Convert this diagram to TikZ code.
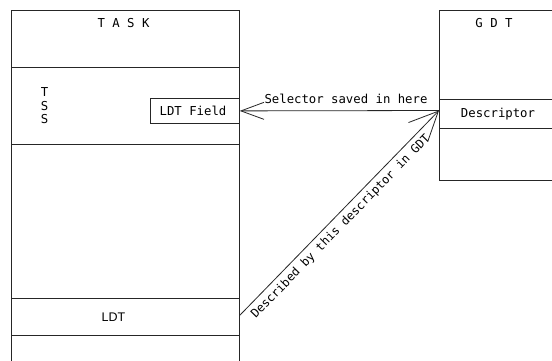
\documentclass[tikz,border=0pt]{standalone}
\usepackage{fontspec}
\setmainfont{DejaVu Sans Mono}
\setsansfont{Liberation Sans}
\usetikzlibrary{arrows.meta}
\begin{document}
\begin{tikzpicture}[x=1pt,y=-1pt,
  ln/.style={line width=0.8pt, draw=black!85},
  lbl/.style={font=\fontsize{12.3}{14}\selectfont, inner sep=0pt, anchor=base},
  harr/.style={ln, -{Straight Barb[length=23pt,width=17pt,line width=0.8pt]}},
  darr/.style={ln, -{Straight Barb[length=29pt,width=27pt,line width=0.8pt]}}]
\useasboundingbox (0,0) rectangle (552,360);
\fill[white] (0,0) rectangle (552,360);
% TASK box
\draw[ln] (11,361) -- (11,10) -- (239,10) -- (239,361);
\draw[ln] (11,67) -- (239,67);
\draw[ln] (11,144) -- (239,144);
\draw[ln] (11,298) -- (239,298);
\draw[ln] (11,335) -- (239,335);
\node[lbl] (task) at (123.5,27.3) {T A S K};
\node[lbl] (tss1) at (44.5,96.7) {T};
\node[lbl] (tss2) at (44.5,110) {S};
\node[lbl] (tss3) at (44.5,123.3) {S};
\node[ln, draw, minimum width=89pt, minimum height=25pt, inner sep=0pt, anchor=north west] (ldtfield) at (150,98) {};
\node[lbl] (ldtfieldtxt) at (193,115.7) {LDT Field};
\node[minimum width=228pt, minimum height=37pt, inner sep=0pt, anchor=north west] (ldtrow) at (11,297) {};
\node[font=\sffamily\fontsize{12.5}{14}\selectfont, inner sep=0pt, anchor=base] (ldt) at (113.5,321.7) {LDT};
% GDT box
\draw[ln] (553,10) -- (439,10) -- (439,180) -- (553,180);
\draw[ln] (439,99) -- (553,99);
\draw[ln] (439,128) -- (553,128);
\node[lbl] (gdt) at (494,27.3) {G D T};
\node[lbl] (desc) at (498,117.7) {Descriptor};
\coordinate (gdtin) at (439,110.5);
% connectors
\draw[harr] (gdtin) -- (ldtfield.east);
\node[lbl] (sel) at (346,103.3) {Selector saved in here};
\draw[darr] (ldtrow.east) -- (gdtin)
  node[pos=0.47, sloped, below=4.5pt, font=\fontsize{11.9}{14}\selectfont, inner sep=0pt] (diag) {Described by this descriptor in GDT};
\end{tikzpicture}
\end{document}
